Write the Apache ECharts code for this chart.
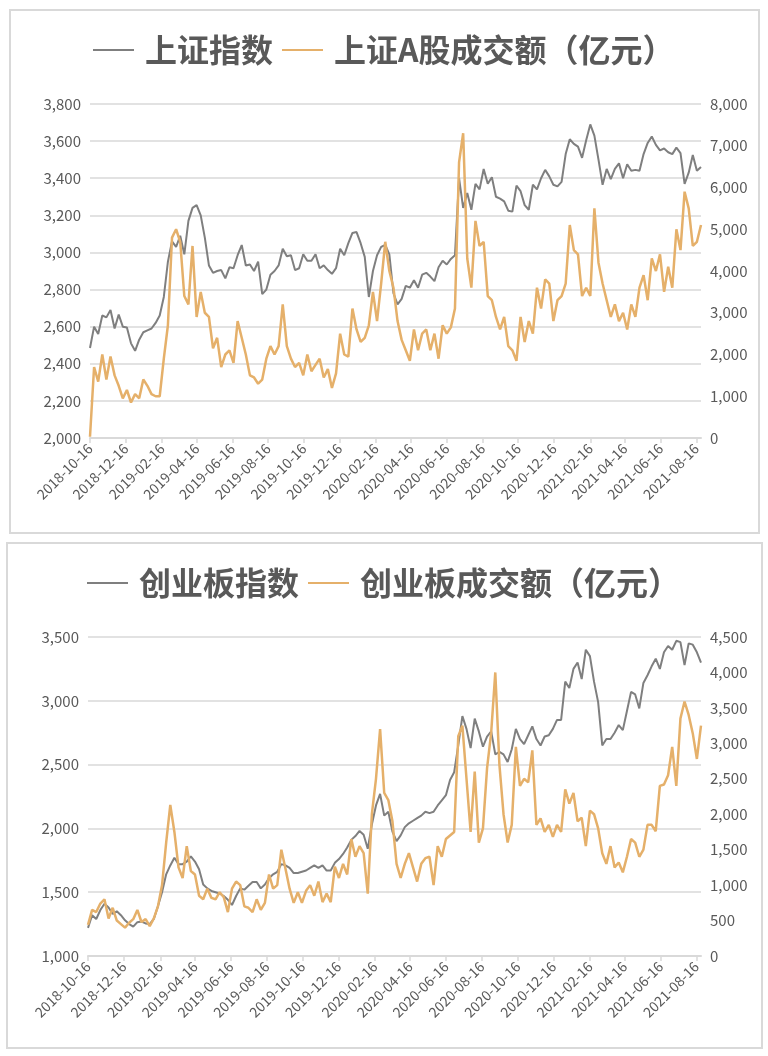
<!DOCTYPE html>
<html><head><meta charset="utf-8">
<script src="https://cdn.jsdelivr.net/npm/echarts@6/dist/echarts.min.js"></script>
<style>
html,body{margin:0;padding:0;background:#fff;width:768px;height:1056px;overflow:hidden}
.panel{position:absolute;box-sizing:border-box;border:2px solid #d9d9d9}
.chart{position:absolute}
</style></head><body>
<div class="panel" style="left:9px;top:9px;width:751px;height:525px"></div>
<div class="panel" style="left:6px;top:542px;width:757px;height:507px"></div>
<div id="c1" class="chart" style="left:0;top:0;width:768px;height:540px"></div>
<div id="c2" class="chart" style="left:0;top:540px;width:768px;height:516px"></div>
<script>
// ---------- data ----------
const startDate = '2018-10-16';
const endDate = '2021-08-24';
const sampleStepDays = 7; // one reading per week, first at startDate

const tickLabels = ['2018-10-16','2018-12-16','2019-02-16','2019-04-16','2019-06-16','2019-08-16',
  '2019-10-16','2019-12-16','2020-02-16','2020-04-16','2020-06-16','2020-08-16','2020-10-16',
  '2020-12-16','2021-02-16','2021-04-16','2021-06-16','2021-08-16'];

const shNames = ['上证指数', '上证A股成交额（亿元）'];
const cyNames = ['创业板指数', '创业板成交额（亿元）'];

// 上证指数 (weekly readings)
const shIndex = [
  2485,2600,2560,2660,2650,2690,2590,2665,2600,2595,
  2510,2470,2530,2570,2580,2590,2620,2660,2760,2950,
  3060,3030,3090,2990,3170,3240,3255,3200,3080,2930,
  2890,2900,2905,2860,2920,2915,2985,3040,2930,2935,
  2900,2950,2775,2800,2880,2900,2930,3020,2980,2985,
  2905,2915,2990,2955,2955,2990,2915,2930,2905,2885,
  2915,3020,2985,3050,3105,3110,3050,2976,2760,2900,
  2985,3030,3040,2990,2780,2720,2750,2820,2810,2850,
  2810,2880,2890,2870,2845,2920,2955,2935,2965,2985,
  3400,3240,3320,3230,3370,3340,3450,3370,3405,3300,
  3290,3275,3225,3220,3360,3330,3255,3230,3365,3340,
  3400,3445,3410,3365,3356,3380,3530,3610,3585,3570,
  3510,3605,3690,3630,3500,3365,3450,3395,3450,3480,
  3400,3475,3440,3445,3440,3530,3590,3625,3580,3550,
  3560,3540,3530,3565,3535,3370,3430,3525,3440,3460
];
// 上证A股成交额（亿元）
const shVolume = [
  30,1700,1350,2000,1400,1950,1500,1250,950,1150,
  850,1050,950,1400,1250,1050,1000,1000,1900,2700,
  4800,5000,4700,3400,3200,4600,2900,3500,3000,2900,
  2150,2400,1700,2000,2100,1800,2800,2400,2000,1500,
  1450,1300,1400,1900,2200,2000,2200,3200,2200,1900,
  1700,1800,1500,2000,1600,1750,1900,1450,1650,1200,
  1550,2500,2000,1950,3100,2600,2300,2400,2700,3500,
  2800,3700,4700,4000,3600,2800,2350,2100,1850,2600,
  2100,2500,2600,2100,2500,1900,2700,2500,2650,3100,
  6600,7300,4300,3600,5200,4600,4700,3400,3300,2900,
  2600,2900,2200,2100,1850,2900,2300,2800,2500,3600,
  3100,3800,3700,2800,3300,3400,3700,5100,4500,4400,
  3400,3600,3400,5500,4200,3700,3300,2900,3200,2800,
  3000,2600,3200,2900,3600,3900,3300,4300,4000,4400,
  3500,4100,3600,5000,4500,5900,5500,4600,4700,5100
];
// 创业板指数
const cyIndex = [
  1220,1320,1290,1360,1410,1380,1330,1350,1320,1280,
  1250,1230,1265,1270,1255,1250,1290,1390,1500,1640,
  1710,1770,1720,1720,1740,1780,1740,1680,1560,1530,
  1510,1500,1490,1470,1440,1400,1470,1530,1520,1550,
  1580,1580,1530,1560,1610,1640,1660,1720,1710,1690,
  1650,1650,1660,1670,1690,1710,1690,1710,1670,1670,
  1730,1760,1800,1850,1910,1940,1980,1950,1840,2030,
  2180,2270,2100,2130,1975,1900,1945,2010,2040,2060,
  2080,2100,2130,2120,2130,2180,2220,2260,2380,2440,
  2650,2880,2780,2630,2860,2760,2640,2720,2760,2580,
  2600,2580,2520,2620,2780,2700,2660,2730,2800,2700,
  2650,2720,2730,2780,2850,2850,3150,3100,3250,3300,
  3170,3400,3350,3150,2990,2650,2700,2700,2750,2810,
  2770,2920,3070,3050,2940,3140,3200,3270,3330,3250,
  3380,3430,3400,3470,3460,3280,3450,3440,3380,3300
];
// 创业板成交额（亿元）
const cyVolume = [
  440,650,620,740,800,530,680,500,450,400,
  470,520,650,480,520,420,530,700,1000,1600,
  2130,1750,1250,1100,1550,1200,1150,850,800,950,
  820,800,900,830,620,950,1050,1000,700,680,
  620,800,650,750,1150,950,1000,1500,1230,950,
  750,900,750,920,1000,850,1050,760,880,760,
  1260,1100,1300,1150,1650,1400,1550,1450,880,2000,
  2500,3200,2300,2200,1900,1300,1100,1300,1450,1250,
  1050,1300,1380,1400,1000,1550,1400,1650,1700,1750,
  3100,3250,2500,1750,2600,1600,1800,2650,3150,4000,
  2700,2000,1600,1850,2950,2400,2500,2450,2900,1850,
  1940,1750,1850,1680,1850,1750,2350,2150,2300,1900,
  1950,1550,2050,2000,1800,1450,1300,1550,1250,1320,
  1180,1400,1650,1600,1400,1500,1850,1850,1760,2400,
  2420,2550,2950,2400,3350,3590,3400,3140,2780,3250
];

// ---------- helpers ----------
function dayList(start, end) {
  const out = [];
  const d = new Date(start + 'T00:00:00Z');
  const e = new Date(end + 'T00:00:00Z');
  while (d <= e) { out.push(d.toISOString().slice(0, 10)); d.setUTCDate(d.getUTCDate() + 1); }
  return out;
}
const categories = dayList(startDate, endDate);
function place(values) {
  const arr = new Array(categories.length).fill(null);
  values.forEach((v, i) => { arr[i * sampleStepDays] = v; });
  return arr;
}
const tickSet = new Set(tickLabels);
const showTick = (idx, val) => tickSet.has(val);
const FONT = '"Noto Sans CJK SC","Noto Sans",sans-serif';
const TEXT = '#595959';
const GRID = '#d9d9d9';
const GREY = '#7f7f7f';
const ORANGE = '#e5b06a';
const fmt = v => String(v).replace(/\B(?=(\d{3})+(?!\d))/g, ',');

function makeOption(c) {
  return {
    animation: false,
    legend: {
      left: c.legendLeft, top: c.legendTop, padding: 0, icon: 'rect', itemWidth: 41, itemHeight: 2, itemGap: 9,
      textStyle: { fontFamily: FONT, fontSize: 32, fontWeight: 'bold', color: TEXT, padding: [0, 0, 0, 6], lineHeight: 36 },
      data: c.names
    },
    grid: c.grid,
    xAxis: {
      type: 'category', data: categories, boundaryGap: false,
      axisLine: { lineStyle: { color: GRID, width: 2 } },
      axisTick: { show: true, interval: showTick, length: 5, lineStyle: { color: GRID, width: 1.5 } },
      axisLabel: { interval: showTick, rotate: 45, margin: 8, fontFamily: FONT, fontSize: 14, color: TEXT },
      splitLine: { show: false }
    },
    yAxis: [
      { type: 'value', position: 'left', min: c.left[0], max: c.left[1], interval: c.left[2],
        axisLine: { show: false }, axisTick: { show: false },
        axisLabel: { margin: 9, fontFamily: FONT, fontSize: 15, color: TEXT, formatter: fmt },
        splitLine: { lineStyle: { color: GRID, width: 1.5 } } },
      { type: 'value', position: 'right', min: c.right[0], max: c.right[1], interval: c.right[2],
        axisLine: { show: false }, axisTick: { show: false },
        axisLabel: { margin: 9, fontFamily: FONT, fontSize: 15, color: TEXT, formatter: fmt },
        splitLine: { show: false } }
    ],
    series: [
      { name: c.names[0], type: 'line', yAxisIndex: 0, data: place(c.a), showSymbol: false, symbol: 'none',
        connectNulls: true, lineStyle: { color: GREY, width: 2 }, itemStyle: { color: GREY } },
      { name: c.names[1], type: 'line', yAxisIndex: 1, data: place(c.b), showSymbol: false, symbol: 'none',
        connectNulls: true, lineStyle: { color: ORANGE, width: 2.5 }, itemStyle: { color: ORANGE } }
    ]
  };
}

const ch1 = echarts.init(document.getElementById('c1'), null, { renderer: 'canvas' });
ch1.setOption(makeOption({
  names: shNames, a: shIndex, b: shVolume,
  legendLeft: 93, legendTop: 32,
  grid: { left: 90, right: 67, top: 104, bottom: 102 },
  left: [2000, 3800, 200], right: [0, 8000, 1000]
}));
const ch2 = echarts.init(document.getElementById('c2'), null, { renderer: 'canvas' });
ch2.setOption(makeOption({
  names: cyNames, a: cyIndex, b: cyVolume,
  legendLeft: 87, legendTop: 25,
  grid: { left: 88, right: 67, top: 97, bottom: 100 },
  left: [1000, 3500, 500], right: [0, 4500, 500]
}));
</script>
</body></html>
